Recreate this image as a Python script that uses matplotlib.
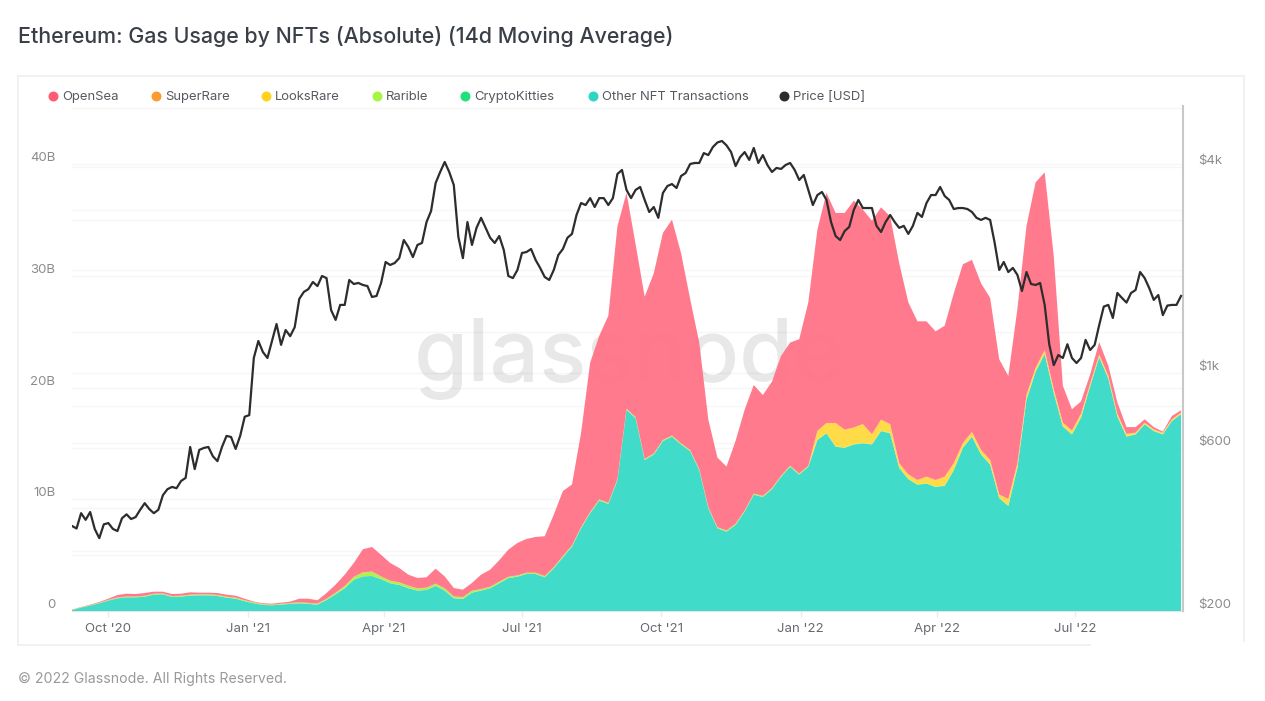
import numpy as np
import pandas as pd
import matplotlib
matplotlib.use("Agg")
import matplotlib.pyplot as plt
from matplotlib.lines import Line2D

plt.rcParams["font.family"] = ["Inter", "DejaVu Sans"]

# ------------------------------------------------------------
# DATA
# ------------------------------------------------------------
# price [USD], one reading every 3 days from 2020-09-07
price = [
    355, 349, 387, 370, 390, 348, 327, 359, 362, 348, 343, 374, 384, 372, 377, 396, 414, 398, 387, 396,
    437, 455, 462, 458, 481, 491, 605, 521, 593, 601, 605, 568, 550, 605, 652, 647, 597, 652, 742, 750,
    1103, 1237, 1148, 1103, 1237, 1387, 1205, 1332, 1278, 1358, 1643, 1722, 1755, 1842, 1792, 1918, 1891, 1524, 1426, 1578,
    1578, 1867, 1817, 1830, 1805, 1792, 1665, 1676, 1830, 2108, 2066, 2094, 2164, 2445, 2332, 2179, 2365, 2397, 2760, 2974,
    3591, 3869, 4140, 3869, 3543, 2498, 2164, 2760, 2365, 2654, 2840, 2654, 2482, 2397, 2512, 2285, 1918, 1891, 1998, 2240,
    2255, 2301, 2137, 2025, 1905, 1867, 1998, 2210, 2301, 2482, 2548, 2895, 3138, 3096, 3244, 3055, 3244, 3244, 3096, 3244,
    3818, 3923, 3428, 3244, 3428, 3497, 3203, 2954, 3055, 2840, 3357, 3520, 3567, 3473, 3766, 3843, 4084, 4112, 4112, 4396,
    4337, 4578, 4723, 4770, 4630, 4426, 4027, 4280, 4426, 4197, 4550, 4112, 4337, 4055, 3869, 3977, 3950, 4056, 4112, 3923,
    3666, 3792, 3428, 3096, 3312, 3381, 3203, 2760, 2512, 2445, 2598, 2671, 2995, 3203, 3034, 3034, 3034, 2690, 2580, 2760,
    2895, 2760, 2654, 2690, 2548, 2690, 2936, 2857, 3138, 3312, 3312, 3497, 3290, 3203, 3014, 3034, 3034, 3014, 2954, 2840,
    2800, 2840, 2800, 2397, 1998, 2108, 1970, 2025, 1932, 1733, 1970, 1817, 1805, 1830, 1578, 1210, 1051, 1125, 1103, 1210,
    1103, 1066, 1103, 1246, 1164, 1205, 1378, 1560, 1578, 1445, 1710, 1654, 1603, 1710, 1745, 1970, 1891, 1768, 1632, 1687,
    1473, 1571, 1578, 1578, 1676,
]

# gas used per day in billions, one reading every 6 days from 2020-09-07
other_nft = [
    0.08, 0.3, 0.48, 0.69, 0.93, 1.13, 1.22, 1.22, 1.28, 1.46,
    1.49, 1.25, 1.28, 1.37, 1.4, 1.4, 1.34, 1.19, 1.1, 0.87,
    0.69, 0.54, 0.51, 0.57, 0.63, 0.69, 0.63, 0.57, 0.99, 1.49,
    2.03, 2.78, 3.1, 3.13, 2.84, 2.48, 2.33, 2.03, 1.82, 1.88,
    2.24, 1.82, 1.13, 1.07, 1.64, 1.82, 2.03, 2.48, 2.93, 3.07,
    3.31, 3.31, 3.01, 3.82, 4.8, 5.76, 7.4, 8.75, 9.88, 9.58,
    11.7, 18.0, 17.25, 13.5, 14.0, 15.2, 15.6, 14.9, 14.3, 12.6,
    9.2, 7.4, 7.1, 7.7, 8.9, 10.4, 10.2, 10.9, 12.0, 12.9,
    12.2, 12.9, 15.3, 15.9, 14.7, 14.6, 14.9, 15.0, 14.9, 16.1,
    15.9, 12.8, 11.8, 11.3, 11.4, 11.1, 11.2, 12.6, 14.6, 15.6,
    14.0, 13.1, 10.1, 9.4, 12.8, 18.9, 21.4, 23.0, 19.5, 16.5,
    15.8, 17.3, 20.1, 22.7, 20.8, 17.4, 15.6, 15.8, 16.7, 16.1,
    15.8, 17.0, 17.6,
]
rarible = [
    0.02, 0.02, 0.02, 0.03, 0.04, 0.05, 0.05, 0.05, 0.06, 0.06,
    0.06, 0.06, 0.06, 0.07, 0.07, 0.07, 0.07, 0.07, 0.07, 0.07,
    0.06, 0.05, 0.05, 0.05, 0.06, 0.06, 0.07, 0.07, 0.08, 0.12,
    0.18, 0.25, 0.33, 0.37, 0.23, 0.21, 0.21, 0.21, 0.18, 0.18,
    0.18, 0.18, 0.15, 0.15, 0.15, 0.12, 0.12, 0.12, 0.11, 0.09,
    0.09, 0.09, 0.09, 0.08, 0.1, 0.08, 0.08, 0.08, 0.08, 0.08,
    0.08, 0.08, 0.08, 0.08, 0.08, 0.08, 0.08, 0.08, 0.08, 0.08,
    0.08, 0.08, 0.08, 0.08, 0.08, 0.08, 0.08, 0.08, 0.08, 0.08,
    0.08, 0.08, 0.03, 0.03, 0.03, 0.03, 0.03, 0.03, 0.03, 0.03,
    0.03, 0.03, 0.03, 0.03, 0.03, 0.03, 0.03, 0.03, 0.03, 0.03,
    0.03, 0.03, 0.03, 0.03, 0.03, 0.03, 0.03, 0.03, 0.03, 0.03,
    0.03, 0.03, 0.03, 0.03, 0.03, 0.03, 0.03, 0.03, 0.03, 0.03,
    0.03, 0.03, 0.03,
]
# no LooksRare before Jan '22
looksrare = [0.0] * 82 + [
    0.77, 0.87, 2.07, 1.57, 1.47, 1.67, 0.87, 0.97, 0.77, 0.37,
    0.37, 0.37, 0.57, 0.57, 0.77, 0.57, 0.37, 0.37, 0.37, 0.37,
    0.27, 0.57, 0.37, 0.4, 0.3, 0.3, 0.3, 0.3, 0.3, 0.3,
    0.2, 0.2, 0.2, 0.2, 0.2, 0.1, 0.1, 0.1, 0.1, 0.1, 0.1,
]
opensea = [
    0.0, 0.01, 0.04, 0.06, 0.1, 0.22, 0.25, 0.22, 0.24, 0.18,
    0.15, 0.18, 0.18, 0.2, 0.14, 0.14, 0.17, 0.17, 0.17, 0.13,
    0.06, 0.07, 0.07, 0.1, 0.12, 0.32, 0.37, 0.29, 0.51, 0.72,
    1.01, 1.24, 2.07, 2.2, 1.93, 1.58, 1.28, 0.98, 0.93, 0.93,
    1.34, 1.07, 0.75, 0.66, 0.69, 1.28, 1.52, 1.91, 2.42, 2.9,
    3.02, 3.2, 3.56, 4.7, 5.8, 5.46, 8.42, 13.37, 14.64, 16.74,
    22.62, 19.32, 15.47, 14.52, 16.12, 18.52, 19.32, 17.02, 13.52, 11.32,
    7.82, 6.22, 5.72, 7.42, 9.02, 9.72, 9.02, 9.52, 10.72, 11.02,
    12.02, 14.62, 18.0, 20.6, 18.8, 19.4, 20.3, 19.2, 19.1, 19.0,
    18.6, 17.9, 15.4, 14.2, 13.9, 13.3, 13.5, 15.2, 16.0, 15.4,
    14.9, 14.5, 12.1, 11.0, 13.8, 15.1, 16.6, 15.9, 11.9, 3.3,
    1.9, 1.1, 0.8, 1.1, 0.9, 1.0, 0.6, 0.5, 0.3, 0.2,
    0.1, 0.3, 0.2,
]
# too thin to read on the picture, kept at a small constant
superrare = [0.02] * len(opensea)
cryptokitties = [0.01] * len(opensea)

price_dates = pd.date_range("2020-09-07", periods=len(price), freq="3D")
gas_dates = pd.date_range("2020-09-07", periods=len(opensea), freq="6D")

legend_names = ["OpenSea", "SuperRare", "LooksRare", "Rarible", "CryptoKitties",
                "Other NFT Transactions", "Price [USD]"]
x_tick_dates = ["2020-10-01", "2021-01-01", "2021-04-01", "2021-07-01",
                "2021-10-01", "2022-01-01", "2022-04-01", "2022-07-01"]
x_tick_labels = ["Oct '20", "Jan '21", "Apr '21", "Jul '21", "Oct '21", "Jan '22", "Apr '22", "Jul '22"]
gas_ticks = [0, 10e9, 20e9, 30e9, 40e9]
gas_tick_labels = ["0", "10B", "20B", "30B", "40B"]
gas_minor_ticks = [5e9, 15e9, 25e9, 35e9, 45e9]
price_ticks = [200, 600, 1000, 4000]
price_tick_labels = ["$200", "$600", "$1k", "$4k"]
price_minor_ticks = [300, 400, 800, 2000, 3000]

# ------------------------------------------------------------
# COLOURS / LAYOUT
# ------------------------------------------------------------
W, H = 1265, 701
C_OPENSEA = "#ff7285"
C_SUPERRARE = "#ff9a33"
C_LOOKS = "#ffd93b"
C_RARIBLE = "#aaf046"
C_KITTIES = "#1fe07a"
C_OTHER = "#35d9c7"
C_PRICE = "#2d2d2d"
C_GRID = "#f6f6f6"
marker_colors = ["#ff5c73", C_SUPERRARE, "#ffd21f", "#a6f542", "#1fe07a", "#2fd5c2", C_PRICE]
legend_x = [53, 156, 266, 377, 465, 593, 784]
legend_y = 95.5


def fx(px):
    return px / W


def fy(px):
    return 1 - px / H


fig = plt.figure(figsize=(12.65, 7.01), dpi=100, facecolor="white")
ax = fig.add_axes([fx(72), fy(611), fx(1183) - fx(72), fy(106) - fy(611)])
ax2 = ax.twinx()
ax.set_zorder(1)
ax2.set_zorder(2)
ax2.patch.set_visible(False)

# ------------------------------------------------------------
# STACKED AREAS
# ------------------------------------------------------------
stack = np.array([other_nft, cryptokitties, rarible, looksrare, superrare, opensea]) * 1e9
ax.stackplot(gas_dates, stack,
             colors=[C_OTHER, C_KITTIES, C_RARIBLE, C_LOOKS, C_SUPERRARE, C_OPENSEA],
             linewidth=0, alpha=0.94, zorder=4)

ax.set_ylim(0, 45.2e9)
ax.set_yticks(gas_ticks)
ax.set_yticklabels(gas_tick_labels)
ax.set_yticks(gas_minor_ticks, minor=True)
ax.grid(True, which="both", axis="y", color=C_GRID, linewidth=1)
ax.set_axisbelow(True)

ax.set_xlim(pd.Timestamp("2020-09-07"), pd.Timestamp("2020-09-07") + pd.Timedelta(days=733.3))
ax.set_xticks(pd.to_datetime(x_tick_dates))
ax.set_xticklabels(x_tick_labels)
ax.tick_params(axis="x", length=4, width=1, color="#ececec", labelcolor="#666a70", labelsize=9.5, pad=4.5)
ax.tick_params(axis="y", which="both", length=0, labelcolor="#8c8c8c", labelsize=9.5, pad=12)
for label in ax.get_yticklabels():
    label.set_va("bottom")

for name in ["top", "left", "right"]:
    ax.spines[name].set_visible(False)
ax.spines["bottom"].set_color("#e6e6e6")

# watermark sits behind the areas and shows through them a little
ax.text(0.502, 0.50, "glassnode", transform=ax.transAxes, ha="center", va="center",
        fontsize=63, fontweight="medium", color="#000000", alpha=0.09, zorder=3)

# ------------------------------------------------------------
# PRICE LINE
# ------------------------------------------------------------
ax2.plot(price_dates, price, color=C_PRICE, linewidth=1.6, solid_joinstyle="round", zorder=5)
ax2.set_yscale("log")
ax2.set_ylim(200, 6040)
ax2.set_yticks(price_ticks)
ax2.set_yticklabels(price_tick_labels)
ax2.set_yticks(price_minor_ticks, minor=True)
ax2.set_yticklabels([""] * len(price_minor_ticks), minor=True)
ax2.tick_params(axis="y", which="both", length=0, labelcolor="#8c8c8c", labelsize=9.5, pad=11)
for label in ax2.get_yticklabels():
    label.set_va("bottom")
for tick in price_minor_ticks + price_ticks:
    ax.axhline(45.2e9 * np.log(tick / 200) / np.log(6040 / 200), color=C_GRID, linewidth=1, zorder=0)

for name in ["top", "left", "bottom"]:
    ax2.spines[name].set_visible(False)
ax2.spines["right"].set_color("#c8c8c8")
ax2.spines["right"].set_linewidth(1.5)

# ------------------------------------------------------------
# LEGEND
# ------------------------------------------------------------
for name, color, x in zip(legend_names, marker_colors, legend_x):
    fig.add_artist(Line2D([fx(x)], [fy(legend_y)], marker="o", markersize=7.2, color=color,
                          markeredgewidth=0, linestyle="none"))
    fig.text(fx(x + 9), fy(legend_y + 4.5), name, ha="left", va="baseline", fontsize=9.4, color="#555a60")

# ------------------------------------------------------------
# TITLE, FOOTER, CARD BORDER
# ------------------------------------------------------------
fig.text(fx(18), fy(43), "Ethereum: Gas Usage by NFTs (Absolute) (14d Moving Average)",
         ha="left", va="baseline", fontsize=15.4, fontweight="medium", color="#3a3f47")
fig.text(fx(18), fy(682.5), "\u00a9 2022 Glassnode. All Rights Reserved.",
         ha="left", va="baseline", fontsize=10.2, color="#9a9a9a")

border = dict(color="#efefef", linewidth=1.2)
fig.add_artist(Line2D([fx(18), fx(18)], [fy(76), fy(645)], **border))
fig.add_artist(Line2D([fx(18), fx(1244)], [fy(76), fy(76)], **border))
fig.add_artist(Line2D([fx(1244), fx(1244)], [fy(76), fy(641)], **border))
fig.add_artist(Line2D([fx(18), fx(1090)], [fy(645), fy(645)], **border))

fig.savefig("out.png", dpi=100)
